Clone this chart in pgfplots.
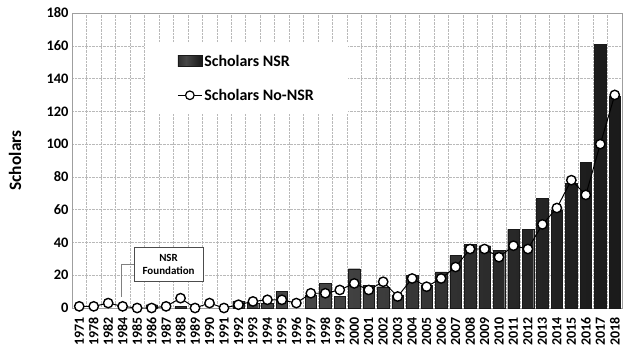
\documentclass[border=0pt]{standalone}
\usepackage{pgfplots}
\pgfplotsset{compat=1.18}
\usepackage{fontspec}
\setmainfont{Carlito}
\pgfdeclarehorizontalshading{barshade}{100bp}{color(0bp)=(black!97); color(25bp)=(black!82); color(42bp)=(black!72); color(70bp)=(black!88); color(100bp)=(black!98)}
\begin{document}
\begin{tikzpicture}
\begin{axis}[name=ax, scale only axis, width=550bp, height=295bp,
  xmin=-0.5, xmax=37.5, ymin=0, ymax=180,
  xtick={0,...,37},
  xticklabels={1971,1978,1982,1984,1985,1986,1987,1988,1989,1990,1991,1992,1993,1994,1995,1996,1997,1998,1999,2000,2001,2002,2003,2004,2005,2006,2007,2008,2009,2010,2011,2012,2013,2014,2015,2016,2017,2018},
  minor xtick={-0.5,0.5,...,37.5},
  ytick={0,20,...,180},
  xminorgrids=true, ymajorgrids=true, xmajorgrids=false,
  grid style={gray!55, densely dotted},
  minor grid style={gray!55, densely dotted},
  major tick length=0pt, minor tick length=0pt,
  axis line style={gray!75},
  /pgf/number format/assume math mode=true,
  xticklabel shift=6bp,
  x tick label style={rotate=90, anchor=east, font=\bfseries\fontsize{14}{15}\selectfont},
  y tick label style={font=\bfseries\fontsize{14.5}{15}\selectfont},
  ylabel={Scholars},
  ylabel style={at={(axis description cs:-0.1036,0.5)}, anchor=center, font=\bfseries\fontsize{17.5}{19}\selectfont},
  legend style={at={(rel axis cs:0.133,0.898)}, anchor=north west, draw=none, fill=white,
    font=\bfseries\fontsize{16}{19}\selectfont, inner xsep=32bp, inner ysep=10bp, row sep=17bp},
  legend cell align=left,
  clip=false,
]
\addplot[ybar, bar width=11.5bp, bar shift=0pt, draw=black!90, line width=0.3pt, shading=barshade, shade,
  legend image code/.code={\fill[shading=barshade] (0bp,-5bp) rectangle (24bp,6bp);}]
  coordinates {(5,2) (7,1) (11,4) (12,3) (13,3) (14,10) (16,8) (17,15) (18,7) (19,24) (20,14) (21,13) (22,8) (23,20) (24,14) (25,22) (26,32) (27,39) (28,38) (29,35) (30,48) (31,48) (32,67) (33,60) (34,76) (35,89) (36,161) (37,129)};
\addlegendentry{Scholars NSR}
\addplot[black, line width=1pt, mark=*, mark size=4.7bp, mark options={fill=white, draw=black, line width=1.4pt},
  legend image code/.code={\draw[black, line width=1pt] (0bp,0bp) -- (24bp,0bp); \draw[black, fill=white, line width=1.2pt] (12bp,0bp) circle (4.3bp);}]
  coordinates {(0,1) (1,1) (2,3) (3,1) (4,0) (5,0) (6,1) (7,6) (8,0) (9,3) (10,0) (11,2) (12,4) (13,5) (14,5) (15,3) (16,9) (17,9) (18,11) (19,15) (20,11) (21,16) (22,7) (23,18) (24,13) (25,18) (26,25) (27,36) (28,36) (29,31) (30,38) (31,36) (32,51) (33,61) (34,78) (35,69) (36,100) (37,130)};
\addlegendentry{Scholars No-NSR}
\draw[gray] (axis cs:2.89,7) -- (axis cs:2.89,27) -- (axis cs:3.78,27);
\node[draw=black!70, fill=white, align=center, font=\bfseries\fontsize{11}{13}\selectfont, minimum width=69bp, minimum height=34bp, inner sep=0pt] at (axis cs:6.17,26.5) {NSR\\Foundation};
\end{axis}
\pgfresetboundingbox
\path ([shift={(-72bp,-50bp)}]ax.south west) rectangle ([shift={(6bp,13bp)}]ax.north east);
\end{tikzpicture}
\end{document}
